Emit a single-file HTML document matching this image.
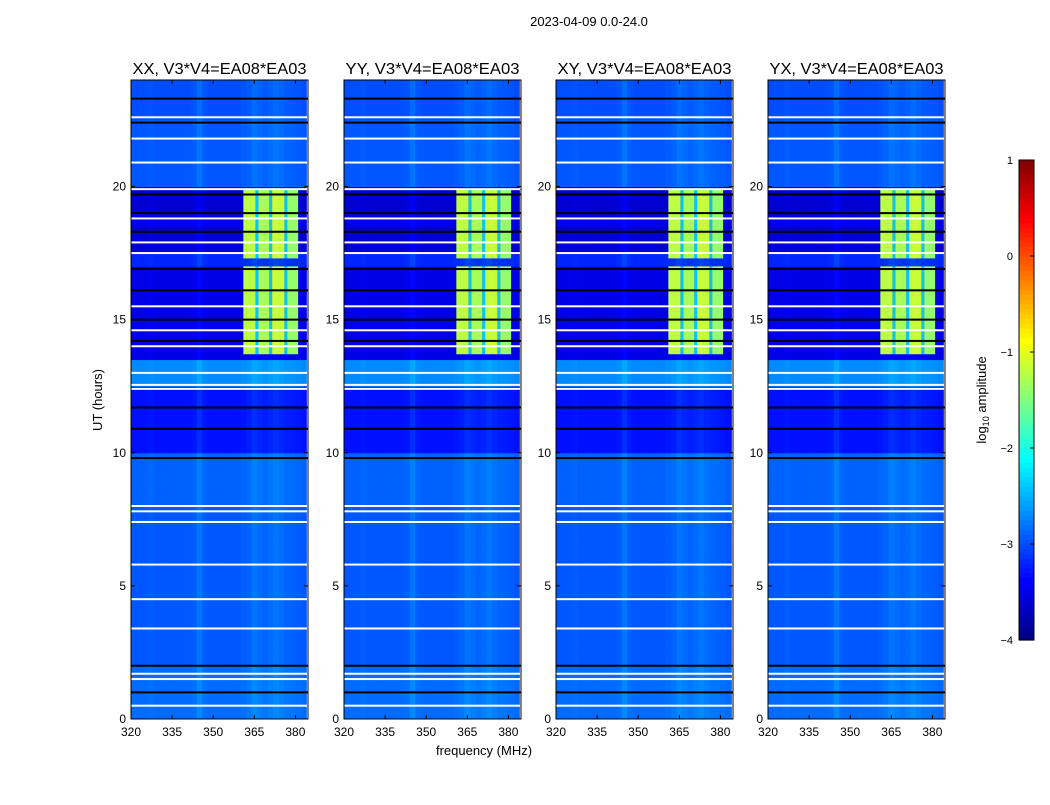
<!DOCTYPE html>
<html><head><meta charset="utf-8"><style>
body{margin:0;background:#fff;}
svg{font-family:"Liberation Sans",sans-serif;}
</style></head><body>
<svg id="fig" width="1050" height="800" xmlns="http://www.w3.org/2000/svg">
<text x="589" y="26" font-size="13" text-anchor="middle">2023-04-09 0.0-24.0</text>
<text transform="translate(102,400) rotate(-90)" font-size="13" text-anchor="middle">UT (hours)</text>
<text x="484" y="755" font-size="13" text-anchor="middle">frequency (MHz)</text>
<g id="panels"></g>
<g id="cbar"></g>
<text transform="translate(986,400) rotate(-90)" font-size="13" text-anchor="middle">log<tspan font-size="9" dy="3">10</tspan><tspan dy="-3"> amplitude</tspan></text>
</svg>
<script>
const panelTitles = ["XX, V3*V4=EA08*EA03","YY, V3*V4=EA08*EA03","XY, V3*V4=EA08*EA03","YX, V3*V4=EA08*EA03"];
// per half-hour row levels (log10 amplitude), 0h..24h
const rowLevels = [-2.85,-2.85,-2.85,-2.85,-2.95,-2.95,-2.95,-2.95,-2.95,-2.95,-2.95,-2.95,-2.95,-2.95,-2.95,-2.95,-2.9,-2.9,-2.9,-2.9,-3.3,-3.3,-3.3,-3.3,-3.3,-2.7,-2.7,-3.5,-3.5,-3.5,-3.5,-3.5,-3.5,-3.5,-3.2,-3.6,-3.6,-3.5,-3.6,-3.6,-2.95,-2.95,-2.95,-2.95,-2.95,-3.0,-3.0,-3.0];
// per 2 MHz column offsets, 320..384 MHz
const colOffsets = [0.0,0.0,0.0,0.03,0.0,0.0,0.0,0.0,0.0,0.0,0.0,0.03,0.15,0.03,0.0,0.0,0.0,0.0,0.0,0.0,0.03,0.06,0.15,0.1,0.06,0.1,0.15,0.1,0.06,0.05,0.03,0.0];
const rfiBands = [[13.7,17.0],[17.3,19.9]];
const rfiChannels = [[361,365.5,-1.2],[365.5,366.5,-2.4],[366.5,370.5,-1.3],[370.5,371.5,-2.4],[371.5,376,-1.15],[376,377,-2.4],[377,381,-1.4]];
const whiteFlags = [0.5,1.5,1.7,3.4,4.5,5.8,7.4,7.8,8.0,12.4,12.55,13.0,14.0,14.6,15.5,17.5,17.9,18.8,19.9,20.9,21.8,22.6];
const blackFlags = [1.0,2.0,9.8,10.9,11.7,14.2,15.0,16.1,16.9,18.3,19.0,19.7,22.4,23.3];
const xTicks = [320,335,350,365,380];
const yTicks = [0,5,10,15,20];
const cbarTicks = [1,0,-1,-2,-3,-4];
const cbarLabels = ["1","0","\u22121","\u22122","\u22123","\u22124"];

const NS="http://www.w3.org/2000/svg";
const lefts=[131,344,556,768], W=177, TOP=80, BOT=719;
const VMIN=-4, VMAX=1;
function jet(v){let t=(v-VMIN)/(VMAX-VMIN);t=Math.max(0,Math.min(1,t));
 const f=x=>Math.round(255*Math.max(0,Math.min(1,x)));
 return `rgb(${f(1.5-Math.abs(4*t-3))},${f(1.5-Math.abs(4*t-2))},${f(1.5-Math.abs(4*t-1))})`;}
function mk(tag,attrs,parent){const e=document.createElementNS(NS,tag);for(const k in attrs)e.setAttribute(k,attrs[k]);parent.appendChild(e);return e;}
const panels=document.getElementById('panels');
lefts.forEach((L,pi)=>{
 const xs=f=>L+(f-320)*2.74;
 const ys=h=>BOT-h*(BOT-TOP)/24;
 const g=mk('g',{},panels);
 
 
 rowLevels.forEach((rv,ri)=>{colOffsets.forEach((cv,ci)=>{
  const f0=320+ci*2, h0=ri*0.5;
  const r=mk('rect',{x:xs(f0),y:ys(h0+0.5),width:xs(f0+2)-xs(f0)+0.5,height:ys(h0)-ys(h0+0.5)+0.5,fill:jet(rv+cv)},g);
  
  
 });});
 rfiBands.forEach(b=>rfiChannels.forEach(c=>{
  const r=mk('rect',{x:xs(c[0]),y:ys(b[1]),width:xs(c[1])-xs(c[0]),height:ys(b[0])-ys(b[1]),fill:jet(c[2])},g);
  
  
 }));
 whiteFlags.forEach(h=>{const r=mk('rect',{x:L,y:ys(h)-1,width:W,height:2,fill:'#fff'},g);
  
  });
 blackFlags.forEach(h=>{const r=mk('rect',{x:L,y:ys(h)-1,width:W,height:2,fill:'#000'},g);
  
  });
 mk('rect',{x:L,y:TOP,width:W,height:BOT-TOP,fill:'none',stroke:'#000','stroke-width':1},g);
 const t=mk('text',{x:L+W/2,y:TOP-6,'font-size':15.5,'text-anchor':'middle',textLength:174,lengthAdjust:'spacingAndGlyphs'},g);
 t.textContent=panelTitles[pi];
 
 
 xTicks.forEach(f=>{mk('line',{x1:xs(f),x2:xs(f),y1:BOT,y2:BOT-4,stroke:'#000'},g);mk('line',{x1:xs(f),x2:xs(f),y1:TOP,y2:TOP+4,stroke:'#000'},g);
  const l=mk('text',{x:xs(f),y:BOT+17,'font-size':12,'text-anchor':'middle'},g);l.textContent=f;
  
  });
 yTicks.forEach(h=>{mk('line',{x1:L,x2:L+4,y1:ys(h),y2:ys(h),stroke:'#000'},g);mk('line',{x1:L+W,x2:L+W-4,y1:ys(h),y2:ys(h),stroke:'#000'},g);
  const l=mk('text',{x:L-5,y:ys(h)+4,'font-size':12,'text-anchor':'end'},g);l.textContent=h;
  
  });
});
const cb=document.getElementById('cbar');
const CX=1019,CW=15,CT=160,CB=640;
for(let i=0;i<100;i++){const v=VMIN+(i+0.5)*(VMAX-VMIN)/100;const y=CB-(i+1)*(CB-CT)/100;
 mk('rect',{x:CX,y:y,width:CW,height:(CB-CT)/100+0.6,fill:jet(v)},cb);}
mk('rect',{x:CX,y:CT,width:CW,height:CB-CT,fill:'none',stroke:'#000'},cb);
cbarTicks.forEach((v,i)=>{const y=CB-(v-VMIN)/(VMAX-VMIN)*(CB-CT);
 mk('line',{x1:CX+CW-4,x2:CX+CW,y1:y,y2:y,stroke:'#000'},cb);
 const l=mk('text',{x:1013,y:y+4,'font-size':11,'text-anchor':'end'},cb);l.textContent=cbarLabels[i];
 
 });
</script>
</body></html>
